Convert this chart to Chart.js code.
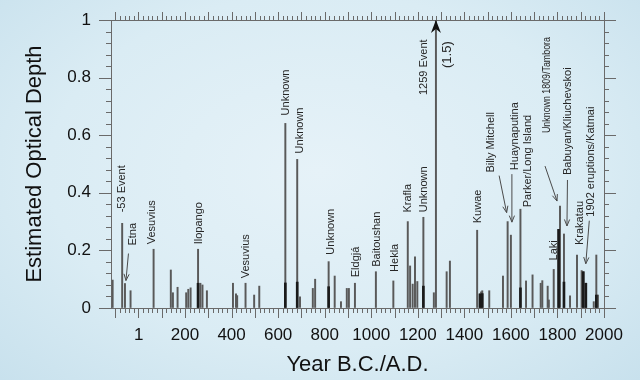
<!DOCTYPE html>
<html>
<head>
<meta charset="utf-8">
<title>Estimated Optical Depth</title>
<script src="https://cdn.jsdelivr.net/npm/chart.js@4.4.1/dist/chart.umd.min.js"></script>
<style>
  html, body { margin: 0; padding: 0; }
  body {
    width: 640px; height: 380px; overflow: hidden;
    background: radial-gradient(ellipse at 50% 45%, #e6f2f8 0%, #daecf4 60%, #c8e1ed 100%);
  }
  canvas { display: block; }
</style>
</head>
<body>
<canvas id="depthChart" width="640" height="380"></canvas>
<script>
// ── Data ─────────────────────────────────────────────────
const yearTicks  = [1, 200, 400, 600, 800, 1000, 1200, 1400, 1600, 1800, 2000];
const depthTicks = [0, 0.2, 0.4, 0.6, 0.8, 1];

// every spike of the record (year, optical depth)
const eruptionYears = [
  -111, -70, -58, -34, 65, 139, 148, 168, 205, 214, 224, 256, 266, 275, 294,
  406, 419, 424, 460, 497, 519, 631, 682, 694, 749, 759, 817, 843, 870, 895,
  904, 930, 1020, 1095, 1157, 1167, 1178, 1188, 1198, 1224, 1269, 1278, 1324,
  1338, 1455, 1467, 1472, 1477, 1507, 1566, 1586, 1600, 1641, 1665, 1693,
  1728, 1735, 1758, 1763, 1784, 1805, 1811, 1828, 1854, 1884, 1904, 1911,
  1922, 1956, 1967, 1974
];
const opticalDepth = [
  0.097, 0.294, 0.085, 0.06, 0.204, 0.132, 0.053, 0.072, 0.053, 0.065, 0.07, 0.204, 0.086, 0.08, 0.06,
  0.086, 0.049, 0.043, 0.086, 0.045, 0.076, 0.641, 0.516, 0.039, 0.068, 0.1, 0.161, 0.111, 0.022, 0.068,
  0.068, 0.086, 0.126, 0.094, 0.3, 0.146, 0.083, 0.178, 0.092, 0.315, 0.053, 1.5, 0.126,
  0.163, 0.27, 0.049, 0.056, 0.06, 0.06, 0.111, 0.3, 0.253, 0.343, 0.094, 0.115,
  0.086, 0.095, 0.076, 0.028, 0.134, 0.273, 0.354, 0.257, 0.042, 0.184, 0.13, 0.126,
  0.086, 0.022, 0.184, 0.045
];

// darker lower parts of some spikes
const coreYears = [256, 631, 682, 817, 1224, 1467, 1477, 1641, 1805, 1828, 1911, 1922, 1967];
const coreDepth = [0.086, 0.087, 0.09, 0.074, 0.076, 0.049, 0.05, 0.07, 0.273, 0.09, 0.126, 0.086, 0.045];

// named events and the spike each one belongs to
const eventNames = [
  '-53 Event', 'Etna', 'Vesuvius', 'Ilopango', 'Vesuvius', 'Unknown', 'Unknown', 'Unknown',
  'Eldgjá', 'Baitoushan', 'Hekla', 'Krafla', 'Unknown', '1259 Event', 'Kuwae', 'Billy Mitchell',
  'Huaynaputina', 'Parker/Long Island', 'Unknown 1809/Tambora', 'Laki', 'Babuyan/Kliuchevskoi',
  'Krakatau', '1902 eruptions/Katmai'
];
const eventYears = [
  -70, -58, 65, 256, 460, 631, 682, 817, 930, 1020, 1095, 1157, 1224, 1278, 1455, 1586,
  1600, 1641, 1811, 1784, 1828, 1884, 1911
];

// ── Label layout: text offset from the spike top, optional arrow (px) ──
const eventLayout = [
  { dx: 0,   dy: -11 },
  { dx: 8,   dy: -38, arrow: [3.5, -30, 1, -3] },
  { dx: -2,  dy: -5 },
  { dx: 1,   dy: -5 },
  { dx: 0,   dy: -5 },
  { dx: 1,   dy: -8 },
  { dx: 3,   dy: -6 },
  { dx: 2,   dy: -7 },
  { dx: 1,   dy: -6 },
  { dx: 1,   dy: -5 },
  { dx: 2,   dy: -9 },
  { dx: 0,   dy: -9 },
  { dx: 1,   dy: -5 },
  { dx: -12, dy: 75 },
  { dx: 1,   dy: -7 },
  { dx: -17, dy: -49, arrow: [-8.5, -46, -1, -9] },
  { dx: 4,   dy: -65, arrow: [1, -61, 1, -13] },
  { dx: 8,   dy: -2 },
  { dx: -13, dy: -73, fit: 96, arrow: [-15, -40, -3, -5] },
  { dx: 0,   dy: -9 },
  { dx: 4,   dy: -59, arrow: [3.5, -54, 3, -8] },
  { dx: 3,   dy: -10 },
  { dx: 8,   dy: -55, arrow: [6, -51, 2.5, -8] }
];

const FONT = "'Liberation Sans', Arial, Helvetica, sans-serif";
Chart.defaults.font.family = FONT;

// ── Frame and ruler ticks on all four sides ──────────────
const framePlugin = {
  id: 'frame',
  beforeDatasetsDraw(chart) {
    const { ctx, chartArea: a, scales: { x, y } } = chart;
    ctx.save();
    ctx.strokeStyle = '#6a6a6a';
    ctx.lineWidth = 1;
    ctx.strokeRect(a.left + 0.5, a.top + 0.5, a.right - a.left, a.bottom - a.top);

    ctx.beginPath();
    // depth ticks, every 0.04, long every 0.2
    for (let k = 0; k <= 25; k++) {
      const py = Math.round(y.getPixelForValue(k * 0.04)) + 0.5;
      const len = k % 5 === 0 ? 12 : 5;
      ctx.moveTo(a.left, py);  ctx.lineTo(a.left - len, py);
      ctx.moveTo(a.right, py); ctx.lineTo(a.right + len, py);
    }
    // year ticks, every 20 years, long every century
    for (let yr = -100; yr <= 2000; yr += 20) {
      const px = Math.round(x.getPixelForValue(yr)) + 0.5;
      const major = yr % 100 === 0;
      ctx.moveTo(px, a.bottom); ctx.lineTo(px, a.bottom + (major ? 10 : 5));
      ctx.moveTo(px, a.top);    ctx.lineTo(px, a.top - (major ? 8 : 4));
    }
    ctx.stroke();
    ctx.restore();
  }
};

// ── Rotated event names, arrows and the off-scale marker ──
function drawArrow(ctx, x1, y1, x2, y2) {
  const ang = Math.atan2(y2 - y1, x2 - x1);
  const h = 7, spread = 0.38;
  ctx.beginPath();
  ctx.moveTo(x1, y1); ctx.lineTo(x2, y2);
  ctx.moveTo(x2 - h * Math.cos(ang - spread), y2 - h * Math.sin(ang - spread));
  ctx.lineTo(x2, y2);
  ctx.lineTo(x2 - h * Math.cos(ang + spread), y2 - h * Math.sin(ang + spread));
  ctx.stroke();
}

function drawUpText(ctx, text, x, y, maxW) {
  ctx.save();
  ctx.translate(x, y);
  ctx.rotate(-Math.PI / 2);
  if (maxW) ctx.fillText(text, 0, 0, maxW); else ctx.fillText(text, 0, 0);
  ctx.restore();
}

const eventLabelPlugin = {
  id: 'eventLabels',
  afterDatasetsDraw(chart) {
    const { ctx, chartArea: a, scales: { x, y } } = chart;
    ctx.save();
    ctx.font = '11px ' + FONT;
    ctx.fillStyle = '#262626';
    ctx.strokeStyle = '#4a4a4a';
    ctx.lineWidth = 1;
    ctx.textAlign = 'left';
    ctx.textBaseline = 'middle';

    eventNames.forEach((name, i) => {
      const yr = eventYears[i];
      const val = opticalDepth[eruptionYears.indexOf(yr)];
      const sx = x.getPixelForValue(yr);
      const sy = Math.max(y.getPixelForValue(val), a.top);
      const L = eventLayout[i];
      drawUpText(ctx, name, sx + L.dx, sy + L.dy, L.fit);
      if (L.arrow) {
        const [x1, y1, x2, y2] = L.arrow;
        drawArrow(ctx, sx + x1, sy + y1, sx + x2, sy + y2);
      }
      // spike beyond the axis: arrowhead at the top and its value
      if (val > y.max) {
        ctx.save();
        ctx.fillStyle = '#111';
        ctx.beginPath();
        ctx.moveTo(sx, a.top);
        ctx.lineTo(sx + 5, a.top + 13);
        ctx.lineTo(sx, a.top + 9);
        ctx.lineTo(sx - 5, a.top + 13);
        ctx.closePath();
        ctx.fill();
        ctx.restore();
        ctx.save();
        ctx.font = '13px ' + FONT;
        drawUpText(ctx, '(' + val + ')', sx + 11, sy + 48);
        ctx.restore();
      }
    });
    ctx.restore();
  }
};

// ── Chart ────────────────────────────────────────────────
new Chart(document.getElementById('depthChart'), {
  type: 'bar',
  data: {
    datasets: [
      {
        label: 'Optical depth',
        data: eruptionYears.map((yr, i) => ({ x: yr, y: opticalDepth[i] })),
        backgroundColor: '#595959',
        barThickness: 1.3,
        grouped: false,
        order: 2
      },
      {
        label: 'Core',
        data: coreYears.map((yr, i) => ({ x: yr, y: coreDepth[i] })),
        backgroundColor: '#1a1a1a',
        barThickness: 2,
        grouped: false,
        order: 1
      }
    ]
  },
  options: {
    responsive: false,
    animation: false,
    events: [],
    layout: { padding: { left: 0, right: 36, top: 20, bottom: 0 } },
    plugins: {
      legend: { display: false },
      tooltip: { enabled: false }
    },
    scales: {
      x: {
        type: 'linear',
        min: -118,
        max: 2000,
        offset: false,
        grid: { display: true, drawOnChartArea: false, offset: false, color: 'rgba(0,0,0,0)', tickLength: 10 },
        border: { display: false },
        afterBuildTicks: (s) => { s.ticks = yearTicks.map(v => ({ value: v })); },
        afterFit: (s) => { s.height = 72; },
        ticks: {
          autoSkip: false,
          maxRotation: 0,
          padding: 7,
          color: '#111',
          font: { size: 17 },
          callback: (v) => String(v)
        },
        title: {
          display: true,
          text: 'Year B.C./A.D.',
          color: '#111',
          font: { size: 22 },
          padding: { top: 0, bottom: 2 }
        }
      },
      y: {
        min: 0,
        max: 1,
        grid: { display: true, drawOnChartArea: false, color: 'rgba(0,0,0,0)', tickLength: 12 },
        border: { display: false },
        afterBuildTicks: (s) => { s.ticks = depthTicks.map(v => ({ value: v })); },
        afterFit: (s) => { s.width = 111; },
        ticks: {
          padding: 8,
          color: '#111',
          font: { size: 17 },
          callback: (v) => String(+v.toFixed(1))
        },
        title: {
          display: true,
          text: 'Estimated Optical Depth',
          color: '#111',
          font: { size: 22 },
          padding: { top: 22, bottom: 0 }
        }
      }
    }
  },
  plugins: [framePlugin, eventLabelPlugin]
});
</script>
</body>
</html>
